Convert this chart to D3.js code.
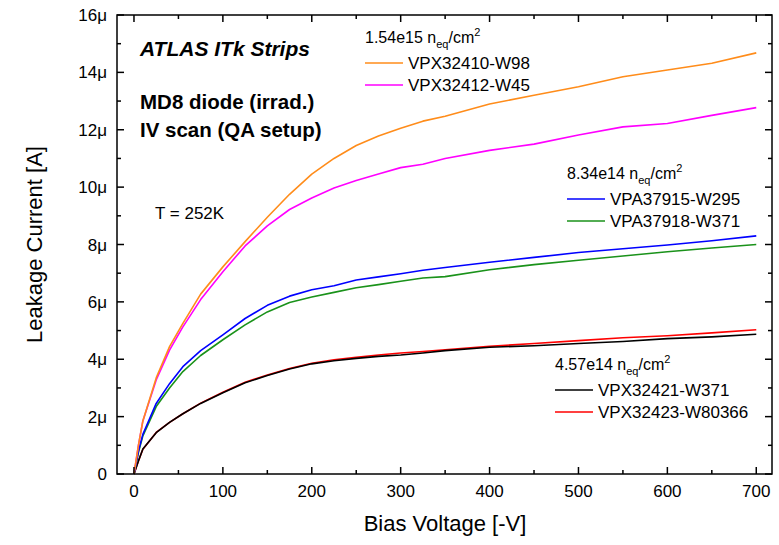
<!DOCTYPE html>
<html>
<head>
<meta charset="utf-8">
<script src="https://cdn.jsdelivr.net/npm/d3@7"></script>
<style>
  body { margin: 0; background: #fff; }
  text { font-family: Arial, "Liberation Sans", sans-serif; fill: #000; }
</style>
</head>
<body>
<svg id="chart" width="779" height="545"></svg>
<script>
// bias voltage points [-V]
const voltage = [0, 5, 10, 25, 40, 55, 75, 100, 125, 150, 175, 200, 225, 250, 275, 300, 325, 350, 400, 450, 500, 550, 600, 650, 700];

// leakage current [uA]
const vpx32410 = [0, 1.0, 1.85, 3.35, 4.44, 5.25, 6.27, 7.22, 8.1, 8.95, 9.75, 10.45, 11.0, 11.45, 11.78, 12.05, 12.3, 12.47, 12.9, 13.2, 13.5, 13.85, 14.08, 14.32, 14.68];
const vpx32412 = [0, 1.0, 1.85, 3.28, 4.32, 5.13, 6.08, 7.05, 7.95, 8.65, 9.22, 9.62, 9.97, 10.23, 10.46, 10.68, 10.8, 11.0, 11.28, 11.5, 11.82, 12.1, 12.22, 12.5, 12.77];
const vpa37915 = [0, 0.8, 1.38, 2.46, 3.15, 3.74, 4.3, 4.85, 5.42, 5.88, 6.2, 6.42, 6.56, 6.76, 6.87, 6.98, 7.1, 7.2, 7.38, 7.55, 7.72, 7.85, 7.98, 8.13, 8.3];
const vpa37918 = [0, 0.75, 1.33, 2.35, 3.0, 3.57, 4.13, 4.68, 5.2, 5.65, 5.98, 6.17, 6.33, 6.49, 6.6, 6.72, 6.83, 6.88, 7.12, 7.3, 7.45, 7.6, 7.75, 7.88, 8.0];
const vpx32421 = [0, 0.45, 0.87, 1.44, 1.8, 2.1, 2.46, 2.83, 3.18, 3.43, 3.66, 3.84, 3.95, 4.03, 4.1, 4.15, 4.22, 4.3, 4.42, 4.47, 4.55, 4.62, 4.72, 4.78, 4.87];
const vpx32423 = [0, 0.45, 0.86, 1.45, 1.8, 2.1, 2.47, 2.85, 3.2, 3.45, 3.68, 3.86, 3.98, 4.07, 4.15, 4.22, 4.27, 4.33, 4.45, 4.55, 4.65, 4.75, 4.82, 4.92, 5.03];

const xTicks = [0, 100, 200, 300, 400, 500, 600, 700];
const yTicks = [0, 2, 4, 6, 8, 10, 12, 14, 16];

const series = [
  { name: "VPX32410-W98", color: "#ff8c1a", values: vpx32410 },
  { name: "VPX32412-W45", color: "#ff00ff", values: vpx32412 },
  { name: "VPA37915-W295", color: "#0000ff", values: vpa37915 },
  { name: "VPA37918-W371", color: "#1a921a", values: vpa37918 },
  { name: "VPX32421-W371", color: "#000000", values: vpx32421 },
  { name: "VPX32423-W80366", color: "#ff0000", values: vpx32423 }
];

const svg = d3.select("#chart");
const pL = 117, pR = 772, pT = 15, pB = 474;

const x = d3.scaleLinear().domain([-19.1, 717.7]).range([pL, pR]);
const y = d3.scaleLinear().domain([0, 16]).range([pB, pT]);

// curves
const line = d3.line().x((d, i) => x(voltage[i])).y(d => y(d));
const curveOrder = [5, 4, 3, 2, 1, 0];
curveOrder.forEach(k => {
  svg.append("path")
    .datum(series[k].values)
    .attr("d", line)
    .attr("fill", "none")
    .attr("stroke", series[k].color)
    .attr("stroke-width", 1.6)
    .attr("stroke-linejoin", "round");
});

// frame
svg.append("rect")
  .attr("x", pL).attr("y", pT)
  .attr("width", pR - pL).attr("height", pB - pT)
  .attr("fill", "none").attr("stroke", "#000").attr("stroke-width", 1.5);

// ticks (inward, all four sides)
const xMinor = d3.range(50, 701, 100);
const yMinor = d3.range(1, 16, 2);
const tk = svg.append("g").attr("stroke", "#000").attr("stroke-width", 1.5);
xTicks.forEach(v => {
  tk.append("line").attr("x1", x(v)).attr("x2", x(v)).attr("y1", pB).attr("y2", pB - 7);
  tk.append("line").attr("x1", x(v)).attr("x2", x(v)).attr("y1", pT).attr("y2", pT + 7);
});
xMinor.forEach(v => {
  tk.append("line").attr("x1", x(v)).attr("x2", x(v)).attr("y1", pB).attr("y2", pB - 4);
  tk.append("line").attr("x1", x(v)).attr("x2", x(v)).attr("y1", pT).attr("y2", pT + 4);
});
yTicks.forEach(v => {
  tk.append("line").attr("x1", pL).attr("x2", pL + 7).attr("y1", y(v)).attr("y2", y(v));
  tk.append("line").attr("x1", pR).attr("x2", pR - 7).attr("y1", y(v)).attr("y2", y(v));
});
yMinor.forEach(v => {
  tk.append("line").attr("x1", pL).attr("x2", pL + 4).attr("y1", y(v)).attr("y2", y(v));
  tk.append("line").attr("x1", pR).attr("x2", pR - 4).attr("y1", y(v)).attr("y2", y(v));
});

// tick labels
svg.selectAll(".xl").data(xTicks).enter().append("text")
  .attr("x", d => x(d)).attr("y", 497)
  .attr("text-anchor", "middle").attr("font-size", 17)
  .text(d => d);
svg.selectAll(".yl").data(yTicks).enter().append("text")
  .attr("x", 107).attr("y", d => y(d) + 6)
  .attr("text-anchor", "end").attr("font-size", 17)
  .text(d => d === 0 ? "0" : d + "μ");

// axis titles
svg.append("text").attr("x", 445).attr("y", 531)
  .attr("text-anchor", "middle").attr("font-size", 22)
  .text("Bias Voltage [-V]");
svg.append("text")
  .attr("transform", "translate(42," + ((pT + pB) / 2) + ") rotate(-90)")
  .attr("text-anchor", "middle").attr("font-size", 22)
  .text("Leakage Current [A]");

// annotations
svg.append("text").attr("x", 140).attr("y", 56)
  .attr("font-size", 21).attr("font-weight", "bold").attr("font-style", "italic")
  .text("ATLAS ITk Strips");
svg.append("text").attr("x", 140).attr("y", 109)
  .attr("font-size", 20.5).attr("font-weight", "bold")
  .text("MD8 diode (irrad.)");
svg.append("text").attr("x", 140).attr("y", 137)
  .attr("font-size", 20.5).attr("font-weight", "bold")
  .text("IV scan (QA setup)");
svg.append("text").attr("x", 155).attr("y", 219)
  .attr("font-size", 17).text("T = 252K");

// legends
const groups = [
  { label: "1.54e15", x: 365, y: 43, items: [0, 1] },
  { label: "8.34e14", x: 567, y: 179, items: [2, 3] },
  { label: "4.57e14", x: 555, y: 370, items: [4, 5] }
];
groups.forEach(g => {
  const t = svg.append("text").attr("x", g.x).attr("y", g.y).attr("font-size", 16);
  t.append("tspan").text(g.label + " n");
  t.append("tspan").attr("font-size", 11).attr("dy", 5).text("eq");
  t.append("tspan").attr("dy", -5).text("/cm");
  t.append("tspan").attr("font-size", 11).attr("dy", -7).text("2");
  g.items.forEach((k, j) => {
    const ly = g.y + 20 + j * 22;
    svg.append("line")
      .attr("x1", g.x).attr("x2", g.x + 38).attr("y1", ly).attr("y2", ly)
      .attr("stroke", series[k].color).attr("stroke-width", 1.6);
    svg.append("text").attr("x", g.x + 43).attr("y", ly + 6)
      .attr("font-size", 17).text(series[k].name);
  });
});
</script>
</body>
</html>
